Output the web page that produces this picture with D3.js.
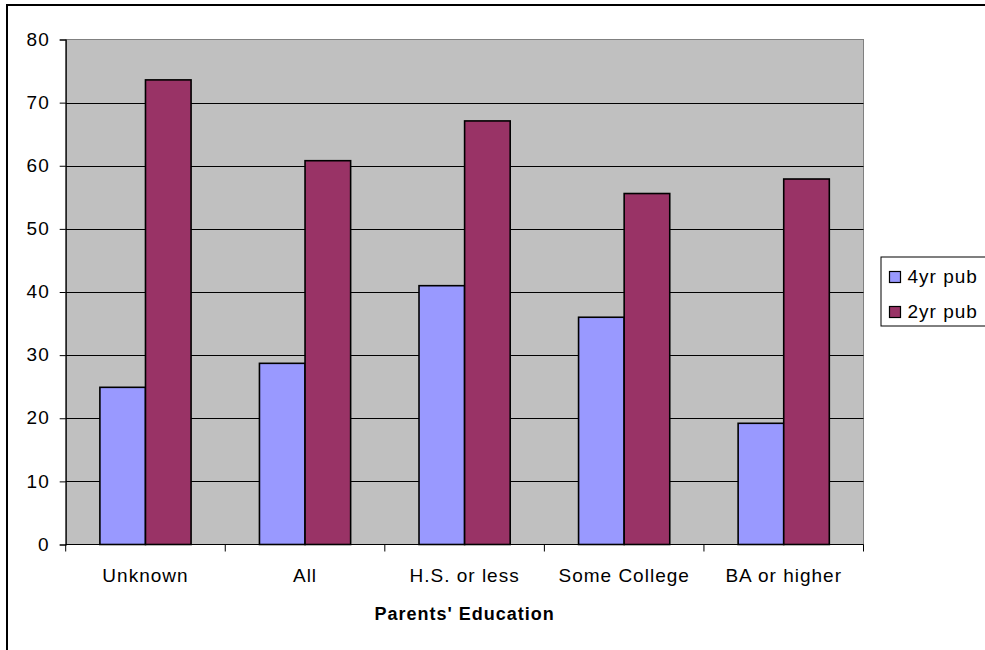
<!DOCTYPE html>
<html>
<head>
<meta charset="utf-8">
<script src="https://cdn.jsdelivr.net/npm/d3@7"></script>
<style>
  html, body { margin: 0; padding: 0; background: #fff; overflow: hidden; }
  svg { display: block; font-family: Arial, "Liberation Sans", sans-serif; }
</style>
</head>
<body>
<svg id="chart" width="985" height="650"></svg>
<script>
const categories = ["Unknown", "All", "H.S. or less", "Some College", "BA or higher"];
const seriesNames = ["4yr pub", "2yr pub"];
const fourYrPub = [24.9, 28.7, 41.0, 36.0, 19.2];
const twoYrPub = [73.6, 60.8, 67.1, 55.6, 57.9];
const yTicks = [0, 10, 20, 30, 40, 50, 60, 70, 80];
const colors = ["#9999FF", "#993366"];
const xTitle = "Parents' Education";

const seriesValues = [fourYrPub, twoYrPub];
const svg = d3.select("#chart");

// outer chart border (extends past the window, like the reference)
svg.append("rect").attr("x", 7).attr("y", 5).attr("width", 1100).attr("height", 800)
  .attr("fill", "#fff").attr("stroke", "#000").attr("stroke-width", 2);

const plot = { left: 65.7, right: 863.5, top: 39.5, bottom: 544.5 };

const x = d3.scaleBand().domain(categories).range([plot.left, plot.right]).paddingInner(0).paddingOuter(0);
const xs = d3.scaleBand().domain(seriesNames).range([0, x.bandwidth()]).paddingInner(0).paddingOuter(0.75);
const y = d3.scaleLinear().domain([0, 80]).range([plot.bottom, plot.top]);

// plot area background
svg.append("rect").attr("x", plot.left).attr("y", plot.top)
  .attr("width", plot.right - plot.left).attr("height", plot.bottom - plot.top)
  .attr("fill", "#C0C0C0").attr("stroke", "#808080").attr("stroke-width", 1);

// gridlines
svg.append("g").selectAll("line").data(yTicks.filter(d => d > 0 && d < 80)).join("line")
  .attr("x1", plot.left).attr("x2", plot.right)
  .attr("y1", d => Math.round(y(d)) + 0.5).attr("y2", d => Math.round(y(d)) + 0.5)
  .attr("stroke", "#000").attr("stroke-width", 1);

// bars
const groups = svg.append("g").selectAll("g").data(seriesNames).join("g")
  .attr("fill", (d, i) => colors[i]);
groups.each(function(s, si) {
  d3.select(this).selectAll("rect").data(categories).join("rect")
    .attr("x", c => x(c) + xs(s))
    .attr("width", xs.bandwidth())
    .attr("y", (c, ci) => y(seriesValues[si][ci]))
    .attr("height", (c, ci) => plot.bottom - y(seriesValues[si][ci]))
    .attr("stroke", "#000").attr("stroke-width", 1.6);
});

// y axis
const yAxis = svg.append("g").attr("transform", `translate(${plot.left},0)`)
  .call(d3.axisLeft(y).tickValues(yTicks).tickSize(6).tickPadding(10).tickFormat(d3.format("d")));
yAxis.select(".domain").attr("stroke", "#000").attr("stroke-width", 1.2);
yAxis.selectAll(".tick line").attr("stroke", "#000");
yAxis.selectAll(".tick text").attr("font-size", 19).attr("letter-spacing", "1px")
  .attr("fill", "#000").attr("font-family", "Arial, 'Liberation Sans', sans-serif").attr("dy", "0.3em");

// x axis: ticks at category boundaries
const xAxis = svg.append("g");
xAxis.append("line").attr("x1", plot.left).attr("x2", plot.right)
  .attr("y1", plot.bottom).attr("y2", plot.bottom).attr("stroke", "#000").attr("stroke-width", 1.2);
const bounds = categories.map(c => x(c)).concat([x(categories[categories.length - 1]) + x.bandwidth()]);
xAxis.selectAll("line.tk").data(bounds).join("line").attr("class", "tk")
  .attr("x1", d => d).attr("x2", d => d)
  .attr("y1", plot.bottom).attr("y2", plot.bottom + 7).attr("stroke", "#000");
xAxis.selectAll("text").data(categories).join("text")
  .attr("x", c => x(c) + x.bandwidth() / 2).attr("y", 582)
  .attr("text-anchor", "middle").attr("font-size", 19).attr("letter-spacing", "1px")
  .attr("fill", "#000").text(c => c);

// x title
svg.append("text").attr("x", (plot.left + plot.right) / 2).attr("y", 620)
  .attr("text-anchor", "middle").attr("font-size", 18).attr("font-weight", "bold")
  .attr("letter-spacing", "1px").attr("fill", "#000").text(xTitle);

// legend
const legend = svg.append("g");
legend.append("rect").attr("x", 881).attr("y", 257).attr("width", 120).attr("height", 69)
  .attr("fill", "#fff").attr("stroke", "#000").attr("stroke-width", 1);
const li = legend.selectAll("g").data(seriesNames).join("g")
  .attr("transform", (d, i) => `translate(889.5, ${271.5 + i * 35})`);
li.append("rect").attr("width", 11).attr("height", 11)
  .attr("fill", (d, i) => colors[i]).attr("stroke", "#000").attr("stroke-width", 1.2);
li.append("text").attr("x", 18).attr("y", 11).attr("font-size", 19).attr("letter-spacing", "1px")
  .attr("fill", "#000").text(d => d);
</script>
</body>
</html>
